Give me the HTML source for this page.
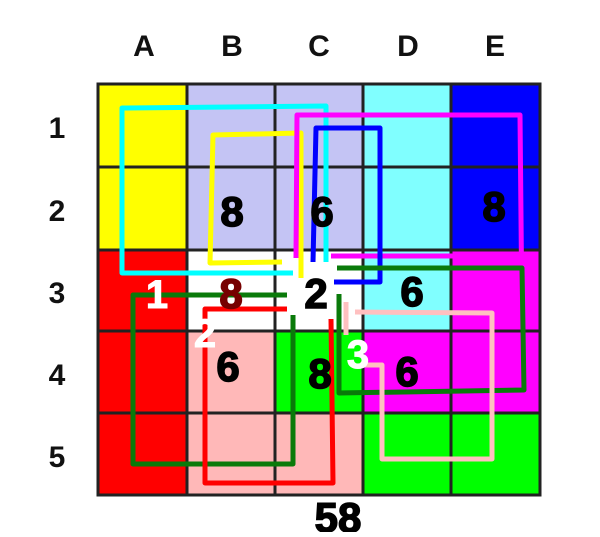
<!DOCTYPE html>
<html><head><style>
body{margin:0;background:#fff;width:600px;height:532px;overflow:hidden}
text{font-family:"Liberation Sans",Arial,sans-serif;font-weight:bold}
</style></head><body>
<svg width="600" height="532" xmlns="http://www.w3.org/2000/svg">
<g>
<rect x="98" y="84" width="89" height="83" fill="#ffff00"/>
<rect x="187" y="84" width="88" height="83" fill="#c4c4f4"/>
<rect x="275" y="84" width="88" height="83" fill="#c4c4f4"/>
<rect x="363" y="84" width="88" height="83" fill="#80ffff"/>
<rect x="451" y="84" width="89" height="83" fill="#0000ff"/>
<rect x="98" y="167" width="89" height="83" fill="#ffff00"/>
<rect x="187" y="167" width="88" height="83" fill="#c4c4f4"/>
<rect x="275" y="167" width="88" height="83" fill="#c4c4f4"/>
<rect x="363" y="167" width="88" height="83" fill="#80ffff"/>
<rect x="451" y="167" width="89" height="83" fill="#0000ff"/>
<rect x="98" y="250" width="89" height="81" fill="#ff0000"/>
<rect x="187" y="250" width="88" height="81" fill="#ffffff"/>
<rect x="275" y="250" width="88" height="81" fill="#ffffff"/>
<rect x="363" y="250" width="88" height="81" fill="#80ffff"/>
<rect x="451" y="250" width="89" height="81" fill="#ff00ff"/>
<rect x="98" y="331" width="89" height="82" fill="#ff0000"/>
<rect x="187" y="331" width="88" height="82" fill="#ffb8b8"/>
<rect x="275" y="331" width="88" height="82" fill="#00ff00"/>
<rect x="363" y="331" width="88" height="82" fill="#ff00ff"/>
<rect x="451" y="331" width="89" height="82" fill="#ff00ff"/>
<rect x="98" y="413" width="89" height="82" fill="#ff0000"/>
<rect x="187" y="413" width="88" height="82" fill="#ffb8b8"/>
<rect x="275" y="413" width="88" height="82" fill="#ffb8b8"/>
<rect x="363" y="413" width="88" height="82" fill="#00ff00"/>
<rect x="451" y="413" width="89" height="82" fill="#00ff00"/>
</g>
<g stroke="#222" stroke-width="3" fill="none">
<rect x="98" y="84" width="442" height="411"/>
<path d="M187 84V495M275 84V495M363 84V495M451 84V495M98 167H540M98 250H540M98 331H540M98 413H540"/>
</g>
<g fill="none" stroke-width="5" stroke-linejoin="round">
<polyline points="293,273 122,273 122,108 326,106 326,262" stroke="#00ffff"/>
<polyline points="282,262 210,263 213,135 301,133 301,278" stroke="#ffff00"/>
<polyline points="296,258 297,115 520,115 522,320" stroke="#ff00ff"/>
<polyline points="331,256 523,256" stroke="#ff00ff"/>
<polyline points="313,262 316,128 380,128 380,282 334,282" stroke="#0000ff"/>
<polyline points="287,295 133,295 133,464 293,464 293,315" stroke="#0a7a0a"/>
<polyline points="337,268 522,268 524,390 339,393 339,294" stroke="#0a7a0a"/>
<polyline points="287,309 205,309 205,483 333,483 331,319" stroke="#ff0000"/>
<polyline points="355,312 492,313 492,459 382,459 382,365 360,365" stroke="#ffc0c0"/>
<polyline points="346,302 346,335" stroke="#ffc0c0"/>
</g>
<g font-size="30" fill="#111" text-anchor="middle">
<text x="144" y="56">A</text><text x="232" y="56">B</text><text x="319" y="56">C</text><text x="408" y="56">D</text><text x="495" y="56">E</text>
<text x="57" y="138">1</text><text x="57" y="221">2</text><text x="57" y="303">3</text><text x="57" y="385">4</text><text x="57" y="467">5</text>
</g>
<g font-size="42" fill="#000" stroke="#000" stroke-width="1.5" text-anchor="middle">
<text x="232" y="226">8</text><text x="322" y="226">6</text><text x="494" y="221">8</text>
<text x="231" y="308" fill="#700" stroke="#700">8</text><text x="316" y="308">2</text><text x="412" y="306">6</text>
<text x="228" y="381">6</text><text x="320" y="388">8</text><text x="407" y="386">6</text>
<text x="338" y="532">58</text>
</g>
<g font-size="40" fill="#fff" stroke="#fff" stroke-width="1" text-anchor="middle">
<text x="157" y="308">1</text><text x="205" y="347">2</text><text x="358" y="368">3</text>
</g>
</svg>
</body></html>
